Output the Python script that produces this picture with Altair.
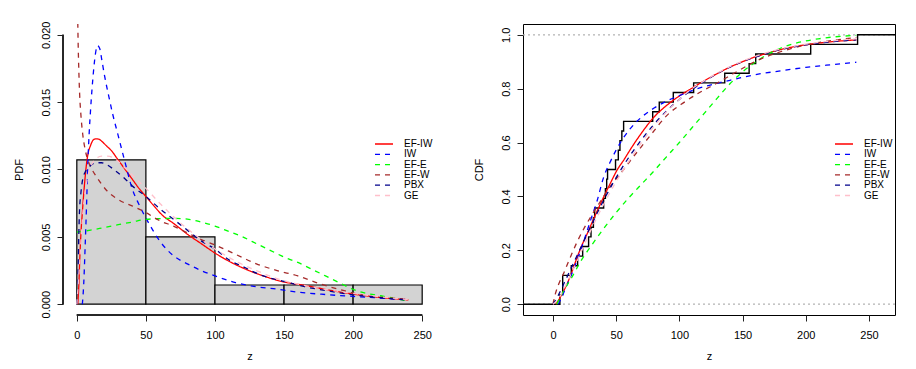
import altair as alt
import pandas as pd

FONT = "Liberation Sans"

series_names = ["EF-IW", "IW", "EF-E", "EF-W", "PBX", "GE"]
series_colors = ["#FF0000", "#0000FF", "#00FF00", "#A52A2A", "#00008B", "#FFC0CB"]
series_dash = [[1, 0], [5, 5], [5, 5], [5, 5], [5, 5], [5, 5]]

# observed sample (read from the empirical CDF steps)
sample = [5.5, 7.7, 7.7, 14.5, 19.5, 23.5, 28.2, 30.1, 32.0, 33.0, 40.1, 41.5,
          42.5, 43.2, 49.5, 51.7, 53.0, 54.5, 55.9, 78.9, 84.1, 95.2, 111.3,
          135.9, 155.2, 160.4, 203.9, 241.0]
hist_breaks = [0, 50, 100, 150, 200, 250]

# ---------------- fitted densities (left panel) ----------------
pdf_efiw_z = [0.7, 1.5, 2.2, 3, 4, 5, 6, 7, 8, 10, 12, 14, 16, 18, 21, 25, 30, 35, 40, 45,
              50, 55, 62, 70, 80, 90, 100, 110, 120, 135, 150, 165, 180, 200, 220, 240]
pdf_efiw_f = [0.0, 0.0015, 0.0035, 0.0053, 0.0068, 0.0082, 0.0094, 0.0104, 0.0111, 0.0118,
              0.0122, 0.01228, 0.01225, 0.0121, 0.0118, 0.0114, 0.0107, 0.0100, 0.0093, 0.0086,
              0.0080, 0.0074, 0.0066, 0.0060, 0.0052, 0.0045, 0.0038, 0.0032, 0.0027, 0.0021,
              0.00165, 0.0014, 0.0011, 0.00075, 0.0005, 0.00032]

pdf_iw_z = [4, 5, 6, 7, 8, 9, 10, 12, 13.5, 15, 16.5, 18, 20, 23, 26, 30, 35, 40, 45, 50, 55,
            60, 70, 80, 90, 100, 115, 130, 145, 160, 180, 200, 220, 240]
pdf_iw_f = [0.0, 0.0015, 0.0042, 0.0072, 0.0105, 0.0128, 0.0145, 0.0172, 0.0186, 0.0192,
            0.0190, 0.0182, 0.0170, 0.0155, 0.0141, 0.0125, 0.0105, 0.0086, 0.0074, 0.0064,
            0.0055, 0.0047, 0.0036, 0.0030, 0.0025, 0.0021, 0.0016, 0.0013, 0.00112, 0.0009,
            0.00072, 0.00058, 0.00046, 0.00036]

pdf_efe_z = [0, 10, 20, 30, 40, 50, 60, 70, 80, 90, 100, 110, 120, 130, 140, 150, 160, 170,
             180, 190, 200, 210, 220, 230, 240]
pdf_efe_f = [0.00535, 0.0055, 0.0057, 0.0059, 0.0061, 0.0063, 0.00635, 0.00637, 0.00632,
             0.0061, 0.0058, 0.0054, 0.0050, 0.0045, 0.0040, 0.0035, 0.0031, 0.0026, 0.0021,
             0.0016, 0.0011, 0.0008, 0.00063, 0.00043, 0.00024]

pdf_efw_z = [0.7, 1, 1.5, 2, 3, 4.3, 6, 8, 10, 14, 18, 22, 28, 35, 40, 50, 60, 70, 80, 90,
             100, 115, 130, 145, 160, 175, 190, 210, 225, 240]
pdf_efw_f = [0.0209, 0.0192, 0.0172, 0.0157, 0.0140, 0.0126, 0.0115, 0.0107, 0.0102, 0.0095,
             0.0089, 0.0084, 0.0079, 0.0075, 0.0073, 0.0068, 0.0062, 0.0058, 0.0053, 0.0048,
             0.0044, 0.0037, 0.0030, 0.0025, 0.0021, 0.00155, 0.0011, 0.00062, 0.00048, 0.00036]

pdf_pbx_z = [0, 0.7, 1.3, 1.9, 3, 4.3, 6, 8, 10, 14, 18, 21, 28, 35, 40, 50, 60, 70, 80, 90,
             100, 110, 120, 135, 150, 165, 180, 200, 220, 240]
pdf_pbx_f = [0.0, 0.0015, 0.0045, 0.0068, 0.0083, 0.0093, 0.0098, 0.0101, 0.0103, 0.0105,
             0.0105, 0.0104, 0.0099, 0.0093, 0.0088, 0.0080, 0.0071, 0.0063, 0.0055, 0.0047,
             0.0041, 0.0033, 0.0028, 0.0021, 0.0017, 0.0013, 0.00102, 0.0007, 0.00048, 0.0003]

pdf_ge_z = [0, 2, 4, 6, 8, 10, 14, 18, 22, 26, 30, 35, 40, 50, 60, 70, 80, 90, 100, 115, 130,
            145, 160, 180, 200, 220, 240]
pdf_ge_f = [0.0, 0.003, 0.0063, 0.0083, 0.0095, 0.0102, 0.0108, 0.0110, 0.0110, 0.0109,
            0.0106, 0.0101, 0.0096, 0.0086, 0.0075, 0.0065, 0.0056, 0.0048, 0.0041, 0.0032,
            0.0025, 0.0019, 0.0015, 0.0011, 0.0008, 0.00055, 0.00035]

# ---------------- fitted CDFs (right panel) ----------------
cdf_efiw_z = [2.4, 5, 8, 11.6, 15, 19.5, 23, 27.4, 32, 38, 45, 51, 56, 62, 70, 80, 90, 100,
              110, 120, 130, 140, 150, 160, 170, 180, 190, 200, 210, 220, 230, 240]
cdf_efiw_F = [0.0, 0.02, 0.045, 0.08, 0.12, 0.179, 0.22, 0.265, 0.315, 0.377, 0.445, 0.50,
              0.535, 0.58, 0.635, 0.695, 0.738, 0.773, 0.802, 0.83, 0.856, 0.88, 0.90, 0.918,
              0.932, 0.945, 0.955, 0.963, 0.969, 0.974, 0.978, 0.981]

cdf_iw_z = [4, 6.3, 10, 14.2, 20, 24.8, 30, 35, 40, 45, 50, 55, 60, 65, 70, 80, 90, 100, 110,
            120, 130, 140, 150, 160, 180, 200, 220, 240]
cdf_iw_F = [0.0, 0.0185, 0.06, 0.105, 0.175, 0.24, 0.315, 0.385, 0.47, 0.525, 0.572, 0.612,
            0.645, 0.672, 0.694, 0.728, 0.754, 0.774, 0.793, 0.808, 0.82, 0.831, 0.842, 0.852,
            0.866, 0.879, 0.889, 0.898]

cdf_efe_z = [3, 7.6, 15, 22, 30, 40, 50, 60, 70, 80, 90, 100, 110, 120, 130, 140, 150, 160,
             170, 180, 190, 200, 210, 220, 230, 240]
cdf_efe_F = [0.0, 0.043, 0.1, 0.16, 0.215, 0.28, 0.34, 0.395, 0.445, 0.495, 0.548, 0.60,
             0.655, 0.71, 0.765, 0.818, 0.862, 0.898, 0.928, 0.95, 0.966, 0.977, 0.985, 0.991,
             0.995, 0.998]

cdf_efw_z = [0, 2, 5, 8, 12, 19.5, 25, 30, 38, 45, 54, 60, 70, 78, 90, 104, 115, 130, 145,
             162, 180, 200, 220, 240]
cdf_efw_F = [0.0, 0.04, 0.08, 0.11, 0.155, 0.235, 0.285, 0.325, 0.385, 0.435, 0.488, 0.525,
             0.585, 0.632, 0.70, 0.75, 0.783, 0.821, 0.862, 0.905, 0.937, 0.962, 0.978, 0.99]

cdf_pbx_z = [0, 3, 6, 10, 15, 20, 25, 30, 40, 50, 60, 70, 80, 90, 100, 110, 120, 130, 140,
             150, 160, 180, 200, 220, 240]
cdf_pbx_F = [0.0, 0.022, 0.05, 0.09, 0.14, 0.19, 0.24, 0.29, 0.385, 0.47, 0.545, 0.61, 0.668,
             0.718, 0.76, 0.797, 0.828, 0.856, 0.88, 0.90, 0.917, 0.945, 0.963, 0.974, 0.981]

cdf_ge_z = [0, 5, 10, 20, 30, 40, 50, 60, 70, 80, 90, 100, 110, 120, 130, 140, 150, 160, 180,
            200, 220, 240]
cdf_ge_F = [0.0, 0.025, 0.07, 0.17, 0.275, 0.37, 0.455, 0.53, 0.60, 0.66, 0.715, 0.76, 0.80,
            0.83, 0.858, 0.882, 0.902, 0.92, 0.947, 0.965, 0.977, 0.985]

# axis ticks / domains
pdf_x_ticks = [0, 50, 100, 150, 200, 250]
pdf_y_ticks = [0.0, 0.005, 0.010, 0.015, 0.020]
cdf_x_ticks = [0, 50, 100, 150, 200, 250]
cdf_y_ticks = [0.0, 0.2, 0.4, 0.6, 0.8, 1.0]
pdf_x_dom = [-10, 260]
pdf_y_dom = [-0.0008, 0.0208]
cdf_x_dom = [-23.7, 270.6]
cdf_y_dom = [-0.04, 1.04]

PW_L, PW_R, PH = 373, 372, 291


def long_df(pairs):
    rows = []
    for name, (zs, vs) in zip(series_names, pairs):
        for z, v in zip(zs, vs):
            rows.append({"series": name, "z": z, "v": v})
    return pd.DataFrame(rows)


pdf_df = long_df([(pdf_efiw_z, pdf_efiw_f), (pdf_iw_z, pdf_iw_f), (pdf_efe_z, pdf_efe_f),
                  (pdf_efw_z, pdf_efw_f), (pdf_pbx_z, pdf_pbx_f), (pdf_ge_z, pdf_ge_f)])
cdf_df = long_df([(cdf_efiw_z, cdf_efiw_F), (cdf_iw_z, cdf_iw_F), (cdf_efe_z, cdf_efe_F),
                  (cdf_efw_z, cdf_efw_F), (cdf_pbx_z, cdf_pbx_F), (cdf_ge_z, cdf_ge_F)])

n = len(sample)
cats = pd.cut(pd.Series(sample), bins=hist_breaks, right=True, include_lowest=True)
counts = cats.value_counts(sort=False).values
hist_df = pd.DataFrame({
    "lo": hist_breaks[:-1],
    "hi": hist_breaks[1:],
    "dens": [c / (n * (hist_breaks[i + 1] - hist_breaks[i])) for i, c in enumerate(counts)],
})

uniq = sorted(set(sample))
ecdf_x = [cdf_x_dom[0]] + uniq + [cdf_x_dom[1]]
ecdf_y = [0.0] + [sum(1 for s in sample if s <= u) / n for u in uniq] + [1.0]
ecdf_df = pd.DataFrame({"z": ecdf_x, "F": ecdf_y})


def legend(x, y):
    return alt.Legend(orient="none", legendX=x, legendY=y, title=None,
                      symbolType="M-2.25,0H2.25", symbolSize=64, symbolStrokeWidth=1.3,
                      labelFont=FONT, labelFontSize=10, labelColor="black",
                      labelOffset=15, rowPadding=0.3, padding=0)


def curves(df, xscale, yscale, leg):
    return alt.Chart(df).mark_line(strokeWidth=1.3, clip=True, interpolate="monotone").encode(
        x=alt.X("z:Q", scale=xscale),
        y=alt.Y("v:Q", scale=yscale),
        color=alt.Color("series:N", scale=alt.Scale(domain=series_names, range=series_colors),
                        legend=leg),
        strokeDash=alt.StrokeDash("series:N",
                                  scale=alt.Scale(domain=series_names, range=series_dash),
                                  legend=leg),
        detail="series:N",
    )


# ---------------- left panel ----------------
lx = alt.Scale(domain=pdf_x_dom, nice=False, zero=False)
ly = alt.Scale(domain=pdf_y_dom, nice=False, zero=False)
ax_lx = alt.Axis(values=pdf_x_ticks, domain=False, title="z", format="d")
ax_ly = alt.Axis(values=pdf_y_ticks, domain=False, title="PDF", format=".3f", labelAngle=-90)

hist = alt.Chart(hist_df).mark_rect(fill="#D3D3D3", stroke="black", strokeWidth=1.2).encode(
    x=alt.X("lo:Q", scale=lx, axis=ax_lx),
    x2="hi:Q",
    y=alt.Y("dens:Q", scale=ly, axis=ax_ly),
    y2=alt.datum(0),
)
yline = alt.Chart(hist_df).mark_rule(color="#222", strokeWidth=1).encode(
    x=alt.value(0), y=alt.datum(pdf_y_ticks[0], scale=ly), y2=alt.datum(pdf_y_ticks[-1]))
xline = alt.Chart(hist_df).mark_rule(color="#222", strokeWidth=1).encode(
    y=alt.value(PH), x=alt.datum(pdf_x_ticks[0], scale=lx), x2=alt.datum(pdf_x_ticks[-1]))

left = alt.layer(
    hist, curves(pdf_df, lx, ly, legend(316, 115)), yline, xline
).properties(width=PW_L, height=PH, view=alt.ViewBackground(stroke="transparent"))

# ---------------- right panel ----------------
rx = alt.Scale(domain=cdf_x_dom, nice=False, zero=False)
ry = alt.Scale(domain=cdf_y_dom, nice=False, zero=False)
ax_rx = alt.Axis(values=cdf_x_ticks, domain=False, title="z", format="d")
ax_ry = alt.Axis(values=cdf_y_ticks, domain=False, title="CDF", format=".1f", labelAngle=-90)

ref_df = pd.DataFrame({"F": [0.0, 1.0]})
refs = alt.Chart(ref_df).mark_rule(color="#B3B3B3", strokeDash=[2, 3], strokeWidth=1.2).encode(
    y=alt.Y("F:Q", scale=ry, axis=ax_ry))
ecdf = alt.Chart(ecdf_df).mark_line(color="black", strokeWidth=1.4, interpolate="step-after",
                                    clip=True).encode(
    x=alt.X("z:Q", scale=rx, axis=ax_rx),
    y=alt.Y("F:Q", scale=ry),
)
right = alt.layer(
    refs, ecdf, curves(cdf_df, rx, ry, legend(316, 115))
).properties(width=PW_R, height=PH, view=alt.ViewBackground(stroke="black", strokeWidth=1))

chart = alt.hconcat(left, right, spacing=35).resolve_scale(
    color="independent", strokeDash="independent"
).resolve_legend(
    color="independent", strokeDash="independent"
).properties(
    padding={"left": 4, "top": 12, "right": 5, "bottom": 5}
).configure(
    font=FONT
).configure_axis(
    labelFont=FONT, titleFont=FONT, labelFontSize=11, titleFontSize=11,
    titleFontWeight="normal", labelColor="black", titleColor="black",
    tickColor="#222", tickSize=6, grid=False,
).configure_axisX(labelPadding=8, titlePadding=10
).configure_axisY(titlePadding=16, labelPadding=6)

chart.save("out.html", embed_options={"renderer": "svg", "actions": False})
